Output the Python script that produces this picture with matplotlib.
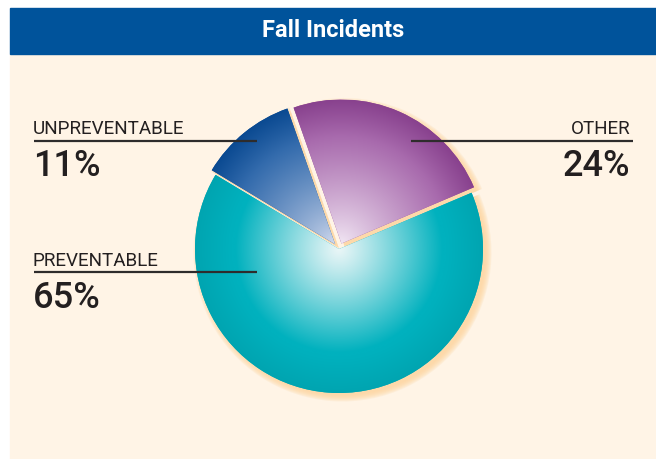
import numpy as np
import matplotlib
matplotlib.use("Agg")
import matplotlib.pyplot as plt
from matplotlib.patches import Rectangle
from matplotlib.colors import to_rgb

# data
title = "Fall Incidents"
labels = ["OTHER", "UNPREVENTABLE", "PREVENTABLE"]
shares = [24, 11, 65]

# radial gradient per slice: (inner colour, outer colour, knee, power)
grad = [
    ("#f3e9f5", "#934799", 1.0, 0.85),
    ("#d9dff1", "#0b4f9c", 1.0, 0.75),
    ("#eaf6f7", "#00b1be", 0.72, 1.1),
]

W, H = 656, 460
cream = "#fff4e6"
peach = "#fdd49c"
ink = "#231f20"

fig = plt.figure(figsize=(W / 100, H / 100), dpi=100)
fig.patch.set_facecolor("white")
ax = fig.add_axes([0, 0, 1, 1])
ax.set_axis_off()

def py(y):
    # pixel-from-top to data y
    return H - y

# background panel and title bar
ax.add_patch(Rectangle((10, 0), W - 10, py(55), color=cream, zorder=0))
ax.add_patch(Rectangle((10, py(55)), W - 10, 46, color="#00539b", zorder=1))
ax.text((10 + W) / 2, py(30.5), title, color="white", fontsize=17, fontweight="bold",
        family=["Roboto", "DejaVu Sans"], ha="center", va="center", zorder=3)

cx, cy, r = 339, py(250), 144
expl = [6.0, 6.0, 0.0]  # pixels, the axes are in pixel units

# soft peach drop shadow: the same pie, shifted down-right, in several faint layers
for k in range(7):
    ax.pie(shares, center=(cx + 3.5, cy - 3.5), radius=r + 5 - k, startangle=23,
           explode=expl, colors=[peach] * len(shares),
           wedgeprops=dict(linewidth=0, alpha=0.2, zorder=1.5))

wedges, _ = ax.pie(shares, center=(cx, cy), radius=r, startangle=23,
                   counterclock=True, explode=expl,
                   colors=[g[1] for g in grad],
                   wedgeprops=dict(linewidth=0, zorder=2))

# gradient fill clipped to each wedge
n = 400
for w, (c_in, c_out, knee, pw) in zip(wedges, grad):
    wx, wy = w.center
    xs = np.linspace(wx - r, wx + r, n)
    ys = np.linspace(wy - r, wy + r, n)
    X, Y = np.meshgrid(xs, ys)
    t = np.hypot(X - wx, Y - wy) / r
    f = np.clip(t / knee, 0, 1) ** pw
    a, b = np.array(to_rgb(c_in)), np.array(to_rgb(c_out))
    img = a + (b - a) * f[..., None]
    # slight darkening at the rim
    dark = np.clip((t - 0.75) / 0.25, 0, 1)[..., None] * 0.07
    img = np.clip(img * (1 - dark), 0, 1)
    im = ax.imshow(img, extent=(wx - r, wx + r, wy - r, wy + r), origin="lower",
                   interpolation="bilinear", zorder=2.5)
    im.set_clip_path(w)

# labels with leader rules
fam = ["Roboto", "DejaVu Sans"]
pos = {
    "OTHER": dict(x=630, ha="right", y=134, line=(411, 633, 141.5)),
    "UNPREVENTABLE": dict(x=33, ha="left", y=134, line=(34, 257, 141.5)),
    "PREVENTABLE": dict(x=33, ha="left", y=266, line=(34, 257, 273)),
}
for lab, val in zip(labels, shares):
    p = pos[lab]
    ax.text(p["x"], py(p["y"]), lab, fontsize=13.6, color=ink, family=fam,
            ha=p["ha"], va="baseline", zorder=4)
    ax.text(p["x"], py(p["y"] + 42), f"{val}%", fontsize=26, color=ink, family=fam,
            fontweight="medium", ha=p["ha"], va="baseline", zorder=4)
    x0, x1, ly = p["line"]
    ax.plot([x0, x1], [py(ly), py(ly)], color="#2e2c2c", lw=1.6,
            solid_capstyle="butt", zorder=4)

ax.set_xlim(0, W)
ax.set_ylim(0, H)
ax.set_aspect("auto")

fig.savefig("out.png", dpi=100, facecolor=fig.get_facecolor())
